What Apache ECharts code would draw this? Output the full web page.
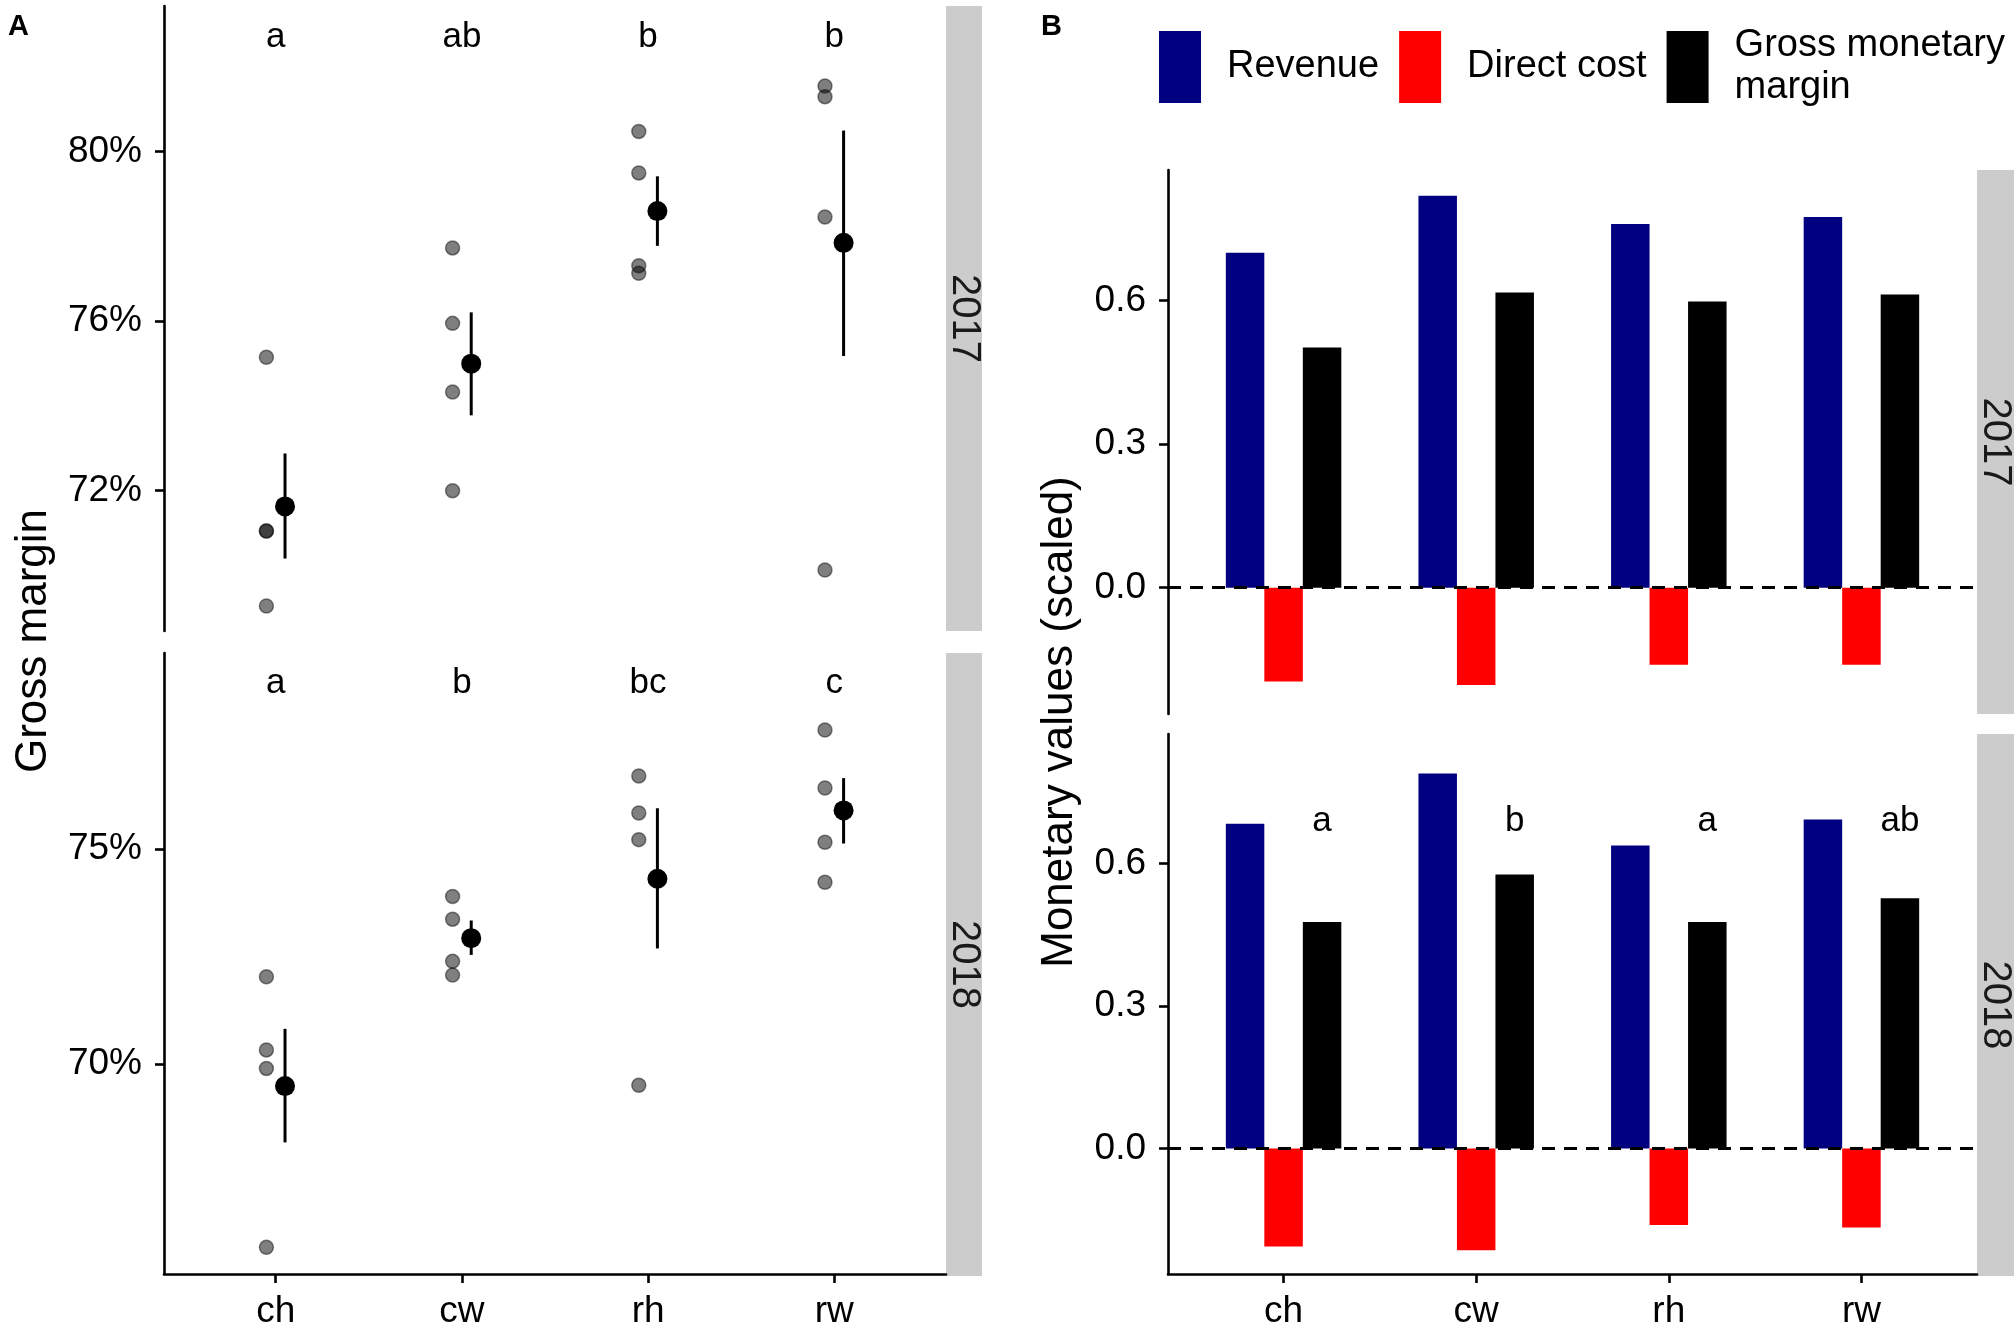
<!DOCTYPE html>
<html>
<head>
<meta charset="utf-8">
<script src="https://cdn.jsdelivr.net/npm/echarts@6/dist/echarts.min.js"></script>
<style>
html,body{margin:0;padding:0;background:#fff;}
#chart{width:2014px;height:1330px;}
</style>
</head>
<body>
<div id="chart"></div>
<script>
// ---------- DATA ----------
const categories = ['ch', 'cw', 'rh', 'rw'];
const years = ['2017', '2018'];

// Panel A: gross margin (%) per replicate
const gmObs2017 = [[75.14, 71.04, 71.04, 69.27], [77.72, 75.94, 74.32, 71.99], [80.47, 79.49, 77.30, 77.12], [81.54, 81.29, 78.45, 70.12]];
const gmMean2017 = [71.62, 74.99, 78.59, 77.84];
const gmLow2017 = [70.39, 73.77, 77.77, 75.17];
const gmHigh2017 = [72.87, 76.20, 79.41, 80.49];
const gmLetters2017 = ['a', 'ab', 'b', 'b'];

const gmObs2018 = [[72.03, 70.33, 69.90, 65.74], [73.90, 73.37, 72.39, 72.07], [76.70, 75.84, 75.22, 69.51], [77.77, 76.42, 75.16, 74.23]];
const gmMean2018 = [69.49, 72.93, 74.31, 75.90];
const gmLow2018 = [68.18, 72.54, 72.69, 75.13];
const gmHigh2018 = [70.82, 73.34, 75.95, 76.65];
const gmLetters2018 = ['a', 'b', 'bc', 'c'];

// Panel B: monetary values (scaled)
const revenue2017 = [0.700, 0.819, 0.760, 0.775];
const cost2017 = [-0.196, -0.2035, -0.161, -0.161];
const margin2017 = [0.502, 0.617, 0.598, 0.613];
const revenue2018 = [0.684, 0.790, 0.638, 0.693];
const cost2018 = [-0.206, -0.214, -0.161, -0.166];
const margin2018 = [0.477, 0.577, 0.477, 0.527];
const marginLetters2018 = ['a', 'b', 'a', 'ab'];

// tick labels
const ticksA2017 = [72, 76, 80];
const ticksA2018 = [70, 75];
const ticksB = [0, 0.3, 0.6];
const catTicks = [1, 2, 3, 4];

// ---------- STYLE / LAYOUT ----------
const FONT = '"Liberation Sans", Arial, Helvetica, sans-serif';
const TICK_FS = 37;
const LETTER_FS = 35;
const letterYA2017 = 82.68, letterYA2018 = 78.86, letterYB2018 = 0.69;
const obsOffset = -0.05, meanOffset = 0.05;

const grids = [
  {left: 164, top: 6, width: 782, height: 625},
  {left: 164, top: 653, width: 782, height: 623},
  {left: 1168, top: 170, width: 809, height: 544},
  {left: 1168, top: 734, width: 809, height: 542}
];

function xAxisFor(gi, showAxis) {
  return {
    type: 'value', gridIndex: gi, min: 0.4, max: 4.6,
    show: showAxis,
    splitLine: {show: false},
    axisLine: {show: true, onZero: false, lineStyle: {color: '#000', width: 2.6}},
    axisTick: {show: true, customValues: catTicks, length: 9, lineStyle: {color: '#000', width: 2.6}},
    axisLabel: {show: true, customValues: catTicks, margin: 19, fontSize: TICK_FS, fontFamily: FONT, color: '#000',
      formatter: v => categories[Math.round(v) - 1] || ''}
  };
}
function yAxisFor(gi, min, max, ticks, fmt) {
  return {
    type: 'value', gridIndex: gi, min: min, max: max,
    splitLine: {show: false},
    axisLine: {show: true, onZero: false, lineStyle: {color: '#000', width: 2.6}},
    axisTick: {show: true, customValues: ticks, length: 9, lineStyle: {color: '#000', width: 2.6}},
    axisLabel: {show: true, customValues: ticks, margin: 22, fontSize: TICK_FS, fontFamily: FONT, color: '#000', formatter: fmt}
  };
}

const pctFmt = v => Math.round(v) + '%';
const decFmt = v => v.toFixed(1);

function obsSeries(gi, obs) {
  const data = [];
  obs.forEach((arr, i) => arr.forEach(v => data.push([i + 1 + obsOffset, v])));
  return {
    type: 'scatter', xAxisIndex: gi, yAxisIndex: gi, data: data, symbolSize: 14, z: 2,
    itemStyle: {color: 'rgba(0,0,0,0.5)', borderColor: 'rgba(0,0,0,0.45)', borderWidth: 1.5, opacity: 1}
  };
}
function errSeries(gi, lo, hi) {
  return {
    type: 'custom', xAxisIndex: gi, yAxisIndex: gi, z: 3,
    data: lo.map((l, i) => [i + 1 + meanOffset, l, hi[i]]),
    encode: {x: 0, y: [1, 2]},
    renderItem: function (params, api) {
      const p1 = api.coord([api.value(0), api.value(1)]);
      const p2 = api.coord([api.value(0), api.value(2)]);
      return {type: 'line', shape: {x1: p1[0], y1: p1[1], x2: p2[0], y2: p2[1]}, style: {stroke: '#000', lineWidth: 3}};
    }
  };
}
function meanSeries(gi, means) {
  return {
    type: 'scatter', xAxisIndex: gi, yAxisIndex: gi, z: 4, symbolSize: 20,
    data: means.map((m, i) => [i + 1 + meanOffset, m]),
    itemStyle: {color: '#000', opacity: 1}
  };
}
function letterSeries(gi, letters, yVal, xOff) {
  return {
    type: 'custom', xAxisIndex: gi, yAxisIndex: gi, z: 5, silent: true,
    data: letters.map((l, i) => [i + 1 + xOff, yVal]),
    renderItem: function (params, api) {
      const p = api.coord([api.value(0), api.value(1)]);
      return {type: 'text', x: p[0], y: p[1],
        style: {text: letters[params.dataIndex], fill: '#000', fontSize: LETTER_FS, fontFamily: FONT, align: 'center', verticalAlign: 'middle'}};
    }
  };
}
const barColors = {'Revenue': '#000080', 'Direct cost': '#FF0000', 'Gross monetary margin': '#000000'};
function barSeries(gi, name, vals, withLine) {
  const s = {
    type: 'bar', name: name, xAxisIndex: gi, yAxisIndex: gi,
    data: vals.map((v, i) => [i + 1, v]),
    barWidth: 38.5, barGap: '0%',
    itemStyle: {color: barColors[name]}, z: 2
  };
  if (withLine) {
    s.markLine = {
      silent: true, symbol: ['none', 'none'], label: {show: false},
      lineStyle: {color: '#000', width: 3, type: [13, 9]},
      emphasis: {disabled: true},
      data: [{yAxis: 0}]
    };
  }
  return s;
}

const series = [
  obsSeries(0, gmObs2017), errSeries(0, gmLow2017, gmHigh2017), meanSeries(0, gmMean2017), letterSeries(0, gmLetters2017, letterYA2017, 0),
  obsSeries(1, gmObs2018), errSeries(1, gmLow2018, gmHigh2018), meanSeries(1, gmMean2018), letterSeries(1, gmLetters2018, letterYA2018, 0),
  barSeries(2, 'Revenue', revenue2017), barSeries(2, 'Direct cost', cost2017), barSeries(2, 'Gross monetary margin', margin2017, true),
  barSeries(3, 'Revenue', revenue2018), barSeries(3, 'Direct cost', cost2018), barSeries(3, 'Gross monetary margin', margin2018, true),
  letterSeries(3, marginLetters2018, letterYB2018, 0.2)
];

function strip(x, y, w, h, label) {
  return [
    {type: 'rect', shape: {x: x, y: y, width: w, height: h}, style: {fill: '#cccccc'}, z: 0},
    {type: 'text', x: x + w / 2, y: y + h / 2, rotation: -Math.PI / 2,
      style: {text: label, fill: '#1a1a1a', fontSize: 40, fontFamily: FONT, align: 'center', verticalAlign: 'middle'}, z: 1}
  ];
}

const option = {
  animation: false,
  backgroundColor: '#fff',
  grid: grids,
  xAxis: [xAxisFor(0, false), xAxisFor(1, true), xAxisFor(2, false), xAxisFor(3, true)],
  yAxis: [
    yAxisFor(0, 68.68, 83.43, ticksA2017, pctFmt),
    yAxisFor(1, 65.12, 79.56, ticksA2018, pctFmt),
    yAxisFor(2, -0.264, 0.873, ticksB, decFmt),
    yAxisFor(3, -0.264, 0.873, ticksB, decFmt)
  ],
  legend: {
    data: ['Revenue', 'Direct cost', 'Gross monetary margin'],
    left: 1159, top: 19, width: 900, padding: 0, orient: 'horizontal',
    icon: 'rect', itemWidth: 42, itemHeight: 72, itemGap: 20,
    selectedMode: false,
    formatter: n => n === 'Gross monetary margin' ? 'Gross monetary\nmargin' : n,
    textStyle: {fontSize: 38, fontFamily: FONT, color: '#000', lineHeight: 42, padding: [12, 0, 0, 21]}
  },
  graphic: [].concat(
    strip(946, 6, 36, 625, years[0]),
    strip(946, 653, 36, 623, years[1]),
    strip(1977, 170, 37, 544, years[0]),
    strip(1977, 734, 37, 542, years[1]),
    [
      {type: 'text', x: 34, y: 641, rotation: Math.PI / 2,
        style: {text: 'Gross margin', fill: '#000', fontSize: 44, fontFamily: FONT, align: 'center', verticalAlign: 'middle'}},
      {type: 'text', x: 1060, y: 722, rotation: Math.PI / 2,
        style: {text: 'Monetary values (scaled)', fill: '#000', fontSize: 44, fontFamily: FONT, align: 'center', verticalAlign: 'middle'}},
      {type: 'text', x: 8, y: 12,
        style: {text: 'A', fill: '#000', fontSize: 29, fontWeight: 'bold', fontFamily: FONT, align: 'left', verticalAlign: 'top'}},
      {type: 'text', x: 1041, y: 12,
        style: {text: 'B', fill: '#000', fontSize: 29, fontWeight: 'bold', fontFamily: FONT, align: 'left', verticalAlign: 'top'}}
    ]
  ),
  series: series
};

const chart = echarts.init(document.getElementById('chart'), null, {renderer: 'canvas'});
chart.setOption(option);
</script>
</body>
</html>
